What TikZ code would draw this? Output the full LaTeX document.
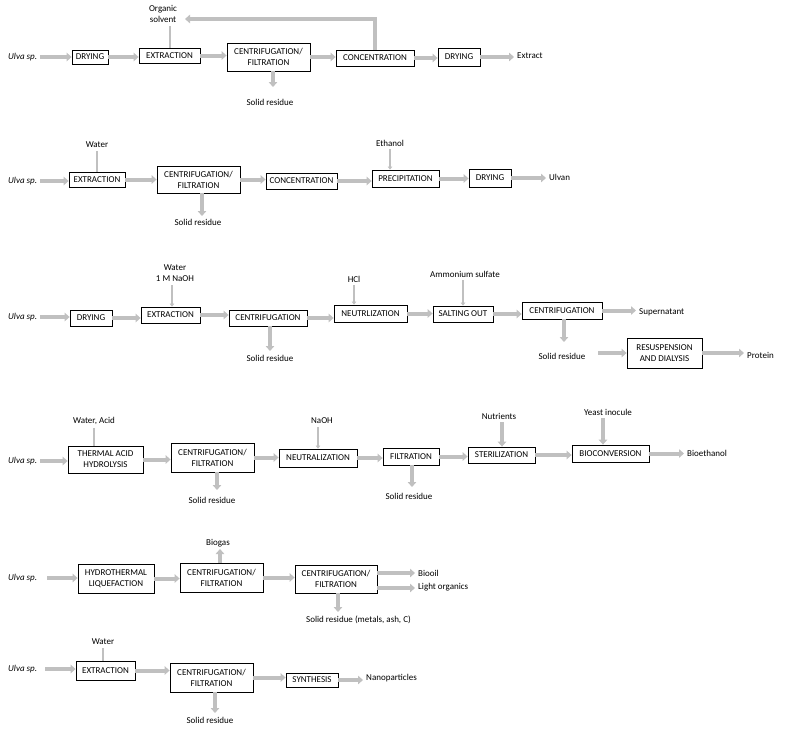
\documentclass[tikz,border=0pt]{standalone}
\usepackage{fontspec}
\setmainfont{Carlito}
\usetikzlibrary{arrows.meta}
\definecolor{flowgray}{RGB}{192,192,192}
\tikzset{
  box/.style={draw=black, fill=white, line width=0.8pt, inner sep=1pt, align=center, font=\fontsize{9}{11}\selectfont},
  lbl/.style={inner sep=3pt, align=center, font=\fontsize{9}{10.5}\selectfont},
  flow/.style={draw=flowgray, line width=4pt, -{Triangle[length=5pt,width=8.5pt]}},
  feed/.style={draw=flowgray, line width=2pt},
  feedarr/.style={draw=flowgray, line width=2pt, -{Triangle[length=3pt,width=4.5pt]}}
}
\begin{document}
\begin{tikzpicture}[x=1pt,y=-1pt]
\useasboundingbox (0,0) rectangle (786,729);

% ---------------- Row 1 ----------------
\node[lbl, anchor=west, font=\fontsize{9}{10.5}\selectfont\itshape] (u1) at (5,57) {Ulva sp.};
\node[box, minimum width=36pt, minimum height=14pt] (r1dry) at (90,57) {DRYING};
\node[box, minimum width=61pt, minimum height=15pt] (r1ext) at (169.5,55.5) {EXTRACTION};
\node[box, minimum width=83pt, minimum height=28pt] (r1cen) at (268.5,57) {CENTRIFUGATION/\\FILTRATION};
\node[box, minimum width=78pt, minimum height=16pt] (r1con) at (375,58) {CONCENTRATION};
\node[box, minimum width=42pt, minimum height=18pt] (r1dry2) at (459,57) {DRYING};
\node[lbl, anchor=west] (r1out) at (514,56) {Extract};
\node[lbl, font=\fontsize{9}{11}\selectfont] (r1sol) at (163,14) {Organic\\solvent};
\node[lbl] (r1sr) at (270,102) {Solid residue};
\coordinate (r1fb) at (185,19);
\coordinate (r1srend) at (273,87);

\draw[flow] (u1.east) -- (u1.east -| r1dry.west);
\draw[flow] (r1dry.east) -- (r1dry.east -| r1ext.west);
\draw[flow] (r1ext.east) -- (r1ext.east -| r1cen.west);
\draw[flow] (r1cen.east) -- (r1cen.east -| r1con.west);
\draw[flow] (r1con.east) -- (r1con.east -| r1dry2.west);
\draw[flow] (r1dry2.east) -- (r1dry2.east -| r1out.west);
\draw[feed] (r1sol.south -| r1ext.north) -- (r1ext.north);
\draw[flow] (r1con.north) |- (r1fb);
\draw[flow] (r1srend |- r1cen.south) -- (r1srend);

% ---------------- Row 2 ----------------
\node[lbl, anchor=west, font=\fontsize{9}{10.5}\selectfont\itshape] (u2) at (5,181) {Ulva sp.};
\node[box, minimum width=56pt, minimum height=15pt] (r2ext) at (97,179.5) {EXTRACTION};
\node[box, minimum width=83pt, minimum height=27pt] (r2cen) at (198.5,179.5) {CENTRIFUGATION/\\FILTRATION};
\node[box, minimum width=71pt, minimum height=16pt] (r2con) at (301.5,181) {CONCENTRATION};
\node[box, minimum width=67pt, minimum height=17pt] (r2pre) at (405.5,178.5) {PRECIPITATION};
\node[box, minimum width=42pt, minimum height=18pt] (r2dry) at (490,178) {DRYING};
\node[lbl, anchor=west] (r2out) at (546,177) {Ulvan};
\node[lbl] (r2wat) at (97,145) {Water};
\node[lbl] (r2eth) at (390,143) {Ethanol};
\node[lbl] (r2sr) at (198,222) {Solid residue};
\coordinate (r2srend) at (202,216);

\draw[flow] (u2.east) -- (u2.east -| r2ext.west);
\draw[flow] (r2ext.east) -- (r2ext.east -| r2cen.west);
\draw[flow] (r2cen.east) -- (r2cen.east -| r2con.west);
\draw[flow] (r2con.east) -- (r2con.east -| r2pre.west);
\draw[flow] (r2pre.east) -- (r2pre.east -| r2dry.west);
\draw[flow] (r2dry.east) -- (r2dry.east -| r2out.west);
\draw[feed] (r2wat.south) -- (r2wat.south |- r2ext.north);
\draw[feedarr] (r2eth.south) -- (r2eth.south |- r2pre.north);
\draw[flow] (r2srend |- r2cen.south) -- (r2srend);

% ---------------- Row 3 ----------------
\node[lbl, anchor=west, font=\fontsize{9}{10.5}\selectfont\itshape] (u3) at (5,317) {Ulva sp.};
\node[box, minimum width=42pt, minimum height=16pt] (r3dry) at (91,318) {DRYING};
\node[box, minimum width=59pt, minimum height=16pt] (r3ext) at (170.5,315) {EXTRACTION};
\node[box, minimum width=78pt, minimum height=16pt] (r3cen) at (268,318) {CENTRIFUGATION};
\node[box, minimum width=73pt, minimum height=17pt] (r3neu) at (370.5,313.5) {NEUTRLIZATION};
\node[box, minimum width=60pt, minimum height=16pt] (r3sal) at (463,314) {SALTING OUT};
\node[box, minimum width=80pt, minimum height=17pt] (r3cen2) at (562,310.5) {CENTRIFUGATION};
\node[box, minimum width=75pt, minimum height=30pt] (r3res) at (664.5,353) {RESUSPENSION\\AND DIALYSIS};
\node[lbl, font=\fontsize{9}{11}\selectfont] (r3wat) at (175,273.5) {Water\\1 M NaOH};
\node[lbl] (r3hcl) at (354,279) {HCl};
\node[lbl] (r3amm) at (465,274) {Ammonium sulfate};
\node[lbl] (r3sr) at (270,358) {Solid residue};
\node[lbl, anchor=west] (r3sup) at (636,312) {Supernatant};
\node[lbl] (r3sr2) at (562,356) {Solid residue};
\node[lbl, anchor=west] (r3pro) at (744,355) {Protein};
\coordinate (r3srend) at (270,351);
\coordinate (r3sr2end) at (564,342);
\coordinate (r3a) at (598,353);
\coordinate (r3wx) at (172,0);

\draw[flow] (u3.east) -- (u3.east -| r3dry.west);
\draw[flow] (r3dry.east) -- (r3dry.east -| r3ext.west);
\draw[flow] (r3ext.east) -- (r3ext.east -| r3cen.west);
\draw[flow] (r3cen.east) -- (r3cen.east -| r3neu.west);
\draw[flow] (r3neu.east) -- (r3neu.east -| r3sal.west);
\draw[flow] (r3sal.east) -- (r3sal.east -| r3cen2.west);
\draw[flow] (r3cen2.east) -- (r3cen2.east -| r3sup.west);
\draw[flow] (r3srend |- r3cen.south) -- (r3srend);
\draw[flow] (r3sr2end |- r3cen2.south) -- (r3sr2end);
\draw[flow] (r3a) -- (r3a -| r3res.west);
\draw[flow] (r3res.east) -- (r3res.east -| r3pro.west);
\draw[feedarr] (r3wx |- r3wat.south) -- (r3wx |- r3ext.north);
\draw[feedarr] (r3hcl.south) -- (r3hcl.south |- r3neu.north);
\draw[feedarr] (r3amm.south -| r3sal.north) -- (r3sal.north);

% ---------------- Row 4 ----------------
\node[lbl, anchor=west, font=\fontsize{9}{10.5}\selectfont\itshape] (u4) at (5,461) {Ulva sp.};
\node[box, minimum width=75pt, minimum height=27pt] (r4tah) at (105.5,459.5) {THERMAL ACID\\HYDROLYSIS};
\node[box, minimum width=83pt, minimum height=29pt] (r4cen) at (212.5,457.5) {CENTRIFUGATION/\\FILTRATION};
\node[box, minimum width=78pt, minimum height=18pt] (r4neu) at (318,458) {NEUTRALIZATION};
\node[box, minimum width=56pt, minimum height=17pt] (r4fil) at (411,456.5) {FILTRATION};
\node[box, minimum width=67pt, minimum height=16pt] (r4ste) at (501.5,455) {STERILIZATION};
\node[box, minimum width=77pt, minimum height=17pt] (r4bio) at (610.5,453.5) {BIOCONVERSION};
\node[lbl, anchor=west] (r4out) at (684,453) {Bioethanol};
\node[lbl] (r4wat) at (94,421) {Water, Acid};
\node[lbl] (r4naoh) at (322,421) {NaOH};
\node[lbl] (r4nut) at (499,416) {Nutrients};
\node[lbl] (r4yea) at (608,412) {Yeast inocule};
\node[lbl] (r4sr) at (212,500) {Solid residue};
\node[lbl] (r4sr2) at (409,496) {Solid residue};
\coordinate (r4srend) at (217,490);
\coordinate (r4sr2end) at (412,487);
\coordinate (r4nx) at (318,0);
\coordinate (r4nutx) at (502,0);
\coordinate (r4yx) at (603,0);

\draw[flow] (u4.east) -- (u4.east -| r4tah.west);
\draw[flow] (r4tah.east) -- (r4tah.east -| r4cen.west);
\draw[flow] (r4cen.east) -- (r4cen.east -| r4neu.west);
\draw[flow] (r4neu.east) -- (r4neu.east -| r4fil.west);
\draw[flow] (r4fil.east) -- (r4fil.east -| r4ste.west);
\draw[flow] (r4ste.east) -- (r4ste.east -| r4bio.west);
\draw[flow] (r4bio.east) -- (r4bio.east -| r4out.west);
\draw[feed] (r4wat.south) -- (r4wat.south |- r4tah.north);
\draw[feedarr] (r4nx |- r4naoh.south) -- (r4nx |- r4neu.north);
\draw[flow] (r4nutx |- r4nut.south) -- (r4nutx |- r4ste.north);
\draw[flow] (r4yx |- r4yea.south) -- (r4yx |- r4bio.north);
\draw[flow] (r4srend |- r4cen.south) -- (r4srend);
\draw[flow] (r4sr2end |- r4fil.south) -- (r4sr2end);

% ---------------- Row 5 ----------------
\node[lbl, anchor=west, font=\fontsize{9}{10.5}\selectfont\itshape] (u5) at (5,578) {Ulva sp.};
\node[box, minimum width=76pt, minimum height=29pt] (r5hyd) at (116,578.5) {HYDROTHERMAL\\LIQUEFACTION};
\node[box, minimum width=83pt, minimum height=29pt] (r5cen1) at (221.5,577.5) {CENTRIFUGATION/\\FILTRATION};
\node[box, minimum width=82pt, minimum height=28pt] (r5cen2) at (336,579) {CENTRIFUGATION/\\FILTRATION};
\node[lbl] (r5gas) at (218,543) {Biogas};
\node[lbl, anchor=west] (r5oil) at (415,573) {Biooil};
\node[lbl, anchor=west] (r5lig) at (415,587) {Light organics};
\node[lbl, anchor=west] (r5sr) at (303,620) {Solid residue (metals, ash, C)};
\coordinate (r5a) at (47,578);
\coordinate (r5gx) at (220,549);
\coordinate (r5srend) at (338,612);
\coordinate (r5o1) at (377,573);
\coordinate (r5o2) at (377,588);

\draw[flow] (r5a) -- (r5a -| r5hyd.west);
\draw[flow] (r5hyd.east) -- (r5hyd.east -| r5cen1.west);
\draw[flow] (r5cen1.east) -- (r5cen1.east -| r5cen2.west);
\draw[flow] (r5gx |- r5cen1.north) -- (r5gx);
\draw[flow] (r5o1) -- (r5o1 -| r5oil.west);
\draw[flow] (r5o2) -- (r5o2 -| r5lig.west);
\draw[flow] (r5srend |- r5cen2.south) -- (r5srend);

% ---------------- Row 6 ----------------
\node[lbl, anchor=west, font=\fontsize{9}{10.5}\selectfont\itshape] (u6) at (5,669) {Ulva sp.};
\node[box, minimum width=59pt, minimum height=19pt] (r6ext) at (105.5,670.5) {EXTRACTION};
\node[box, minimum width=83pt, minimum height=29pt] (r6cen) at (211.5,677.5) {CENTRIFUGATION/\\FILTRATION};
\node[box, minimum width=52pt, minimum height=14pt] (r6syn) at (312,680) {SYNTHESIS};
\node[lbl, anchor=west] (r6out) at (363,678) {Nanoparticles};
\node[lbl] (r6wat) at (103,642) {Water};
\node[lbl] (r6sr) at (210,720) {Solid residue};
\coordinate (r6a) at (45,669);
\coordinate (r6srend) at (215,713);

\draw[flow] (r6a) -- (r6a -| r6ext.west);
\draw[flow] (r6ext.east) -- (r6ext.east -| r6cen.west);
\draw[flow] (r6cen.east) -- (r6cen.east -| r6syn.west);
\draw[flow] (r6syn.east) -- (r6syn.east -| r6out.west);
\draw[feed] (r6wat.south) -- (r6wat.south |- r6ext.north);
\draw[flow] (r6srend |- r6cen.south) -- (r6srend);
\end{tikzpicture}
\end{document}
